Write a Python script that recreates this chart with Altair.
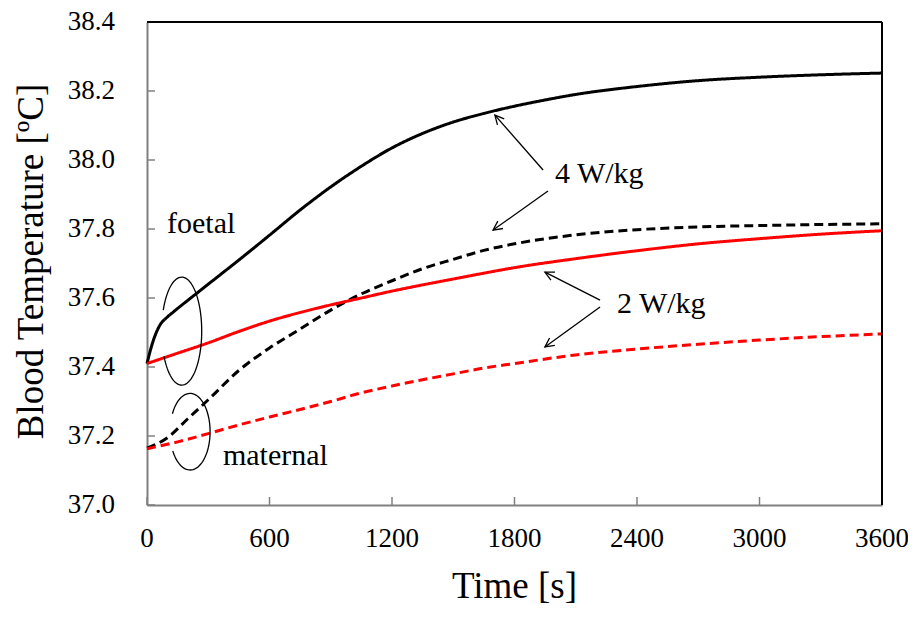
import altair as alt
import numpy as np
import pandas as pd

FONT = "Liberation Serif, Times New Roman, DejaVu Serif, serif"

# ---------------- data ----------------
x_ticks = [0, 600, 1200, 1800, 2400, 3000, 3600]
y_ticks = [37.0, 37.2, 37.4, 37.6, 37.8, 38.0, 38.2, 38.4]
x_tick_labels = ["0", "600", "1200", "1800", "2400", "3000", "3600"]
y_tick_labels = ["37.0", "37.2", "37.4", "37.6", "37.8", "38.0", "38.2", "38.4"]
X_TITLE = "Time [s]"
Y_TITLE = "Blood Temperature [ºC]"

t_foetal_4 = [0, 15, 30, 60, 100, 130, 240, 360, 450, 600, 750, 900, 1050, 1200, 1350, 1500,
              1650, 1800, 1950, 2100, 2400, 2700, 3000, 3300, 3600]
v_foetal_4 = [37.41, 37.445, 37.475, 37.518, 37.545, 37.56, 37.612, 37.668, 37.71, 37.782, 37.855,
              37.922, 37.982, 38.035, 38.077, 38.11, 38.135, 38.156, 38.174, 38.19, 38.213, 38.23,
              38.24, 38.247, 38.252]

t_maternal_4 = [0, 100, 200, 300, 450, 600, 750, 900, 1050, 1200, 1350, 1500, 1650, 1800, 2100,
                2400, 2700, 3000, 3300, 3600]
v_maternal_4 = [37.165, 37.195, 37.25, 37.305, 37.39, 37.455, 37.51, 37.565, 37.612, 37.65, 37.685,
                37.712, 37.738, 37.757, 37.783, 37.798, 37.806, 37.81, 37.813, 37.815]

t_foetal_2 = [0, 150, 300, 450, 600, 750, 900, 1050, 1200, 1350, 1500, 1650, 1800, 2100, 2400,
              2700, 3000, 3300, 3600]
v_foetal_2 = [37.41, 37.44, 37.47, 37.503, 37.533, 37.558, 37.58, 37.6, 37.62, 37.638, 37.655,
              37.672, 37.688, 37.714, 37.737, 37.757, 37.772, 37.785, 37.795]

t_maternal_2 = [0, 150, 300, 450, 600, 750, 900, 1050, 1200, 1350, 1500, 1650, 1800, 2100, 2400,
                2700, 3000, 3300, 3600]
v_maternal_2 = [37.163, 37.183, 37.207, 37.232, 37.255, 37.277, 37.3, 37.325, 37.345, 37.363, 37.38,
                37.397, 37.41, 37.435, 37.452, 37.466, 37.478, 37.488, 37.496]

series_names = ["foetal 4 W/kg", "maternal 4 W/kg", "foetal 2 W/kg", "maternal 2 W/kg"]
series_colors = ["#000000", "#000000", "#ff0000", "#ff0000"]
series_dashes = [[1, 0], [9, 5], [1, 0], [9, 5]]

# annotation texts
ann_text = ["foetal", "maternal", "4 W/kg", "2 W/kg"]
ann_t = [98, 372, 1998, 2302]
ann_v = [37.788, 37.116, 37.933, 37.556]

# arrows (tail -> head)
arr_t1 = [1940, 1964, 2219, 2219]
arr_v1 = [37.971, 37.910, 37.594, 37.574]
arr_t2 = [1704, 1695, 1949, 1949]
arr_v2 = [38.130, 37.797, 37.675, 37.458]

# open ellipses (center, half-axes, arc start/end angle in degrees)
ell_ct = [170, 211]
ell_cv = [37.504, 37.2125]
ell_rt = [98, 98]
ell_rv = [0.1565, 0.111]
ell_a0 = [-152, -150]
ell_a1 = [157, 152]

# ---------------- layout ----------------
W, H = 735, 483
X_DOM = [0, 3600]
Y_DOM = [37.0, 38.4]
GRAY = "#808080"

xs = alt.Scale(domain=X_DOM, nice=False, zero=False)
ys = alt.Scale(domain=Y_DOM, nice=False, zero=False)

ax_x = alt.Axis(values=x_ticks, grid=False, ticks=False, labels=False,
                domainColor=GRAY, domainWidth=2)
ax_y = alt.Axis(values=y_ticks, grid=False, ticks=False, labels=False,
                domainColor=GRAY, domainWidth=2)


def X(field):
    return alt.X(field, scale=xs, axis=ax_x, title=None)


def Y(field):
    return alt.Y(field, scale=ys, axis=ax_y, title=None)


rows = []
for name, ts, vs in zip(series_names,
                        [t_foetal_4, t_maternal_4, t_foetal_2, t_maternal_2],
                        [v_foetal_4, v_maternal_4, v_foetal_2, v_maternal_2]):
    for i, (t, v) in enumerate(zip(ts, vs)):
        rows.append({"series": name, "t": t, "v": v, "k": i})
df = pd.DataFrame(rows)

lines = alt.Chart(df).mark_line(strokeWidth=3, interpolate="monotone").encode(
    x=X("t:Q"), y=Y("v:Q"),
    color=alt.Color("series:N", scale=alt.Scale(domain=series_names, range=series_colors), legend=None),
    strokeDash=alt.StrokeDash("series:N", scale=alt.Scale(domain=series_names, range=series_dashes), legend=None),
    order="k:Q",
)

# inward tick marks
ytick = alt.Chart(pd.DataFrame({"v": y_ticks})).mark_rule(color=GRAY, strokeWidth=1.5).encode(
    y=Y("v:Q"), x=alt.value(0), x2=alt.value(8))
xtick = alt.Chart(pd.DataFrame({"t": x_ticks})).mark_rule(color=GRAY, strokeWidth=1.5).encode(
    x=X("t:Q"), y=alt.value(H), y2=alt.value(H - 8))

# tick labels
ylab = alt.Chart(pd.DataFrame({"v": y_ticks, "s": y_tick_labels})).mark_text(
    font=FONT, fontSize=27, align="right", baseline="middle", color="black").encode(
    y=Y("v:Q"), x=alt.value(-32), text="s:N")
xlab = alt.Chart(pd.DataFrame({"t": x_ticks, "s": x_tick_labels})).mark_text(
    font=FONT, fontSize=27, align="center", baseline="top", color="black").encode(
    x=X("t:Q"), y=alt.value(H + 21), text="s:N")

# axis titles
xtitle = alt.Chart(pd.DataFrame({"s": [X_TITLE]})).mark_text(
    font=FONT, fontSize=37, align="center", baseline="alphabetic", color="black").encode(
    x=alt.value(W / 2), y=alt.value(H + 93), text="s:N")
ytitle = alt.Chart(pd.DataFrame({"s": [Y_TITLE]})).mark_text(
    font=FONT, fontSize=37, align="center", baseline="alphabetic", angle=270, color="black").encode(
    x=alt.value(-104), y=alt.value(H / 2 - 2), text="s:N")

# top and right frame
top_border = alt.Chart(pd.DataFrame({"a": [0]})).mark_rule(color="black", strokeWidth=2).encode(
    x=alt.value(0), x2=alt.value(W), y=alt.value(0))
right_border = alt.Chart(pd.DataFrame({"a": [0]})).mark_rule(color="black", strokeWidth=2).encode(
    x=alt.value(W), y=alt.value(0), y2=alt.value(H))

# ellipses
erows = []
for j in range(len(ell_ct)):
    angs = np.deg2rad(np.linspace(ell_a0[j], ell_a1[j], 80))
    for i, a in enumerate(angs):
        erows.append({"e": j, "k": i,
                      "t": ell_ct[j] + ell_rt[j] * np.cos(a),
                      "v": ell_cv[j] + ell_rv[j] * np.sin(a)})
ellipses = alt.Chart(pd.DataFrame(erows)).mark_line(color="black", strokeWidth=1.3).encode(
    x=X("t:Q"), y=Y("v:Q"), detail="e:N", order="k:Q")

# arrows
adf = pd.DataFrame({"t": arr_t1, "v": arr_v1, "t2": arr_t2, "v2": arr_v2})
dx = (adf["t2"] - adf["t"]) * W / (X_DOM[1] - X_DOM[0])
dy = -(adf["v2"] - adf["v"]) * H / (Y_DOM[1] - Y_DOM[0])
adf["ang"] = (np.degrees(np.arctan2(dx, -dy)) + 360) % 360

arrow_lines = alt.Chart(adf).mark_rule(color="black", strokeWidth=1.3).encode(
    x=X("t:Q"), y=Y("v:Q"), x2="t2:Q", y2="v2:Q")
arrow_heads = alt.Chart(adf).mark_point(
    shape="M -0.5 1 L 0 0 L 0.5 1", filled=False, color="black", strokeWidth=1.3,
    size=324, opacity=1).encode(
    x=X("t2:Q"), y=Y("v2:Q"), angle=alt.Angle("ang:Q", scale=None))

# texts
texts = alt.Chart(pd.DataFrame({"t": ann_t, "v": ann_v, "s": ann_text})).mark_text(
    font=FONT, fontSize=30, align="left", baseline="alphabetic", color="black").encode(
    x=X("t:Q"), y=Y("v:Q"), text="s:N")

chart = alt.layer(
    lines, ytick, xtick, ellipses, arrow_lines, arrow_heads, texts,
    ylab, xlab, xtitle, ytitle, top_border, right_border
).properties(
    width=W, height=H,
    autosize=alt.AutoSizeParams(type="none"),
    padding={"left": 139, "top": 14, "right": 26, "bottom": 104},
).configure_view(stroke=None).configure(background="white")

chart.save("out.html", embed_options={"renderer": "svg", "actions": False})
